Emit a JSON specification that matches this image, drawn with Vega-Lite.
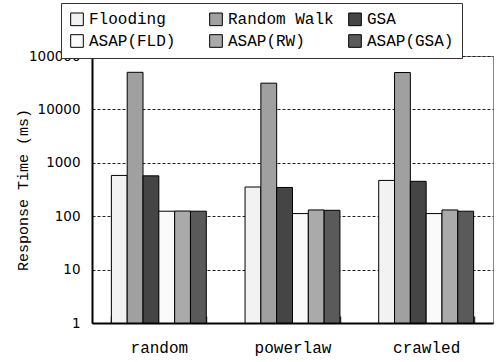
{
  "$schema": "https://vega.github.io/schema/vega-lite/v6.json",
  "width": 401,
  "height": 267,
  "autosize": {"type": "none"},
  "padding": {"left": 92, "top": 56, "right": 3, "bottom": 39},
  "background": "white",
  "config": {
    "view": {"stroke": "#888888", "strokeWidth": 1}
  },
  "data": {
    "values": [
      {"topology": "random", "series": "Flooding", "time": 580},
      {"topology": "random", "series": "Random Walk", "time": 49500},
      {"topology": "random", "series": "GSA", "time": 570},
      {"topology": "random", "series": "ASAP(FLD)", "time": 124},
      {"topology": "random", "series": "ASAP(RW)", "time": 125},
      {"topology": "random", "series": "ASAP(GSA)", "time": 124},
      {"topology": "powerlaw", "series": "Flooding", "time": 352},
      {"topology": "powerlaw", "series": "Random Walk", "time": 31000},
      {"topology": "powerlaw", "series": "GSA", "time": 345},
      {"topology": "powerlaw", "series": "ASAP(FLD)", "time": 112},
      {"topology": "powerlaw", "series": "ASAP(RW)", "time": 131},
      {"topology": "powerlaw", "series": "ASAP(GSA)", "time": 129},
      {"topology": "crawled", "series": "Flooding", "time": 468},
      {"topology": "crawled", "series": "Random Walk", "time": 49000},
      {"topology": "crawled", "series": "GSA", "time": 450},
      {"topology": "crawled", "series": "ASAP(FLD)", "time": 112},
      {"topology": "crawled", "series": "ASAP(RW)", "time": 131},
      {"topology": "crawled", "series": "ASAP(GSA)", "time": 124}
    ]
  },
  "mark": {"type": "bar", "stroke": "black", "strokeWidth": 1},
  "encoding": {
    "x": {
      "field": "topology",
      "type": "nominal",
      "sort": ["random", "powerlaw", "crawled"],
      "scale": {"paddingInner": 0.29, "paddingOuter": 0.145},
      "axis": {
        "title": null,
        "labelAngle": 0,
        "labelFont": "Liberation Mono",
        "labelFontSize": 16,
        "labelColor": "black",
        "labelPadding": 23,
        "tickBand": "extent",
        "tickSize": -7,
        "tickColor": "#333333",
        "tickWidth": 1.5,
        "domainColor": "black",
        "domainWidth": 2
      }
    },
    "xOffset": {
      "field": "series",
      "type": "nominal",
      "sort": ["Flooding", "Random Walk", "GSA", "ASAP(FLD)", "ASAP(RW)", "ASAP(GSA)"],
      "scale": {"paddingInner": 0, "paddingOuter": 0}
    },
    "y": {
      "field": "time",
      "type": "quantitative",
      "scale": {"type": "log", "domain": [1, 100000], "nice": false},
      "axis": {
        "title": "Response Time (ms)",
        "titleFont": "Liberation Mono",
        "titleFontSize": 15,
        "titleFontWeight": "normal",
        "titleColor": "black",
        "titlePadding": -2,
        "values": [1, 10, 100, 1000, 10000, 100000],
        "format": "d",
        "labelFont": "DejaVu Sans",
        "labelFontSize": 13.5,
        "labelColor": "black",
        "labelPadding": 12,
        "ticks": false,
        "grid": true,
        "gridColor": "#222222",
        "gridDash": [3, 2],
        "gridWidth": 1,
        "domainColor": "black",
        "domainWidth": 2
      }
    },
    "y2": {"datum": 1},
    "fill": {
      "field": "series",
      "type": "nominal",
      "scale": {
        "domain": ["Flooding", "Random Walk", "GSA", "ASAP(FLD)", "ASAP(RW)", "ASAP(GSA)"],
        "range": ["#f2f2f2", "#a0a0a0", "#454545", "#fafafa", "#aaaaaa", "#5a5a5a"]
      },
      "legend": {
        "title": null,
        "orient": "none",
        "legendX": -31,
        "legendY": -53,
        "direction": "horizontal",
        "columns": 3,
        "gridAlign": "all",
        "columnPadding": 12,
        "rowPadding": 4,
        "symbolType": "square",
        "symbolSize": 160,
        "symbolStrokeColor": "black",
        "symbolStrokeWidth": 1,
        "labelFont": "Liberation Mono",
        "labelFontSize": 16,
        "labelColor": "black",
        "labelOffset": 4,
        "strokeColor": "#333333",
        "padding": 8,
        "fillColor": "white"
      }
    }
  }
}
